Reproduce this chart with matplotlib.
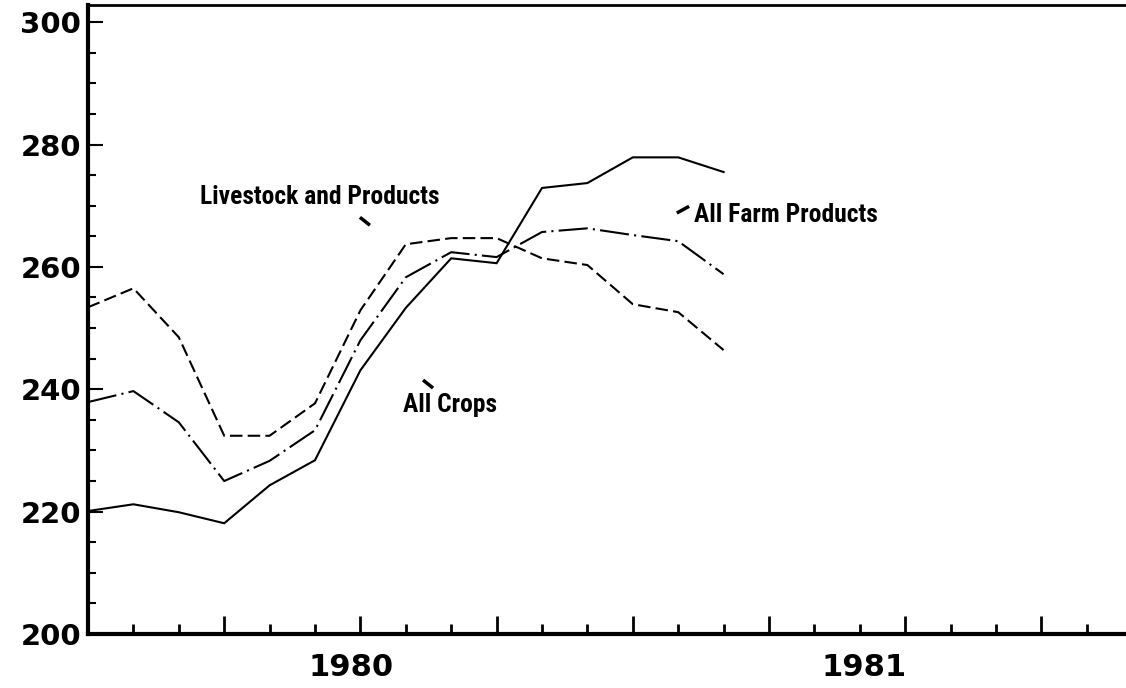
import numpy as np
import matplotlib
matplotlib.use("Agg")
import matplotlib.pyplot as plt
from matplotlib.ticker import MultipleLocator
from matplotlib import font_manager

# ---- data (index numbers, monthly) ----
all_crops = [220.1, 221.2, 219.9, 218.1, 224.3, 228.4, 243.1, 253.3, 261.4, 260.6,
             272.9, 273.7, 277.9, 277.9, 275.5]
all_farm = [237.9, 239.7, 234.6, 225.0, 228.3, 233.3, 248.0, 258.3, 262.4, 261.6,
            265.7, 266.3, 265.2, 264.2, 258.8]
livestock = [253.4, 256.5, 248.5, 232.4, 232.4, 237.7, 252.9, 263.7, 264.7, 264.7,
             261.4, 260.3, 253.9, 252.6, 246.4]
year_labels = ["1980", "1981"]
y_tick_values = [200, 220, 240, 260, 280, 300]
series_names = ["Livestock and Products", "All Crops", "All Farm Products"]

months = np.arange(len(all_crops))

installed = {f.name for f in font_manager.fontManager.ttflist}
narrow = None
for cand in ["Liberation Sans Narrow", "Roboto Condensed", "Open Sans Condensed",
             "DejaVu Sans Condensed", "Lato", "Roboto"]:
    if cand in installed:
        narrow = cand
        break
if narrow is None:
    narrow = "DejaVu Sans"
narrow_size = {"Liberation Sans Narrow": 18, "Roboto Condensed": 17,
               "Open Sans Condensed": 17, "DejaVu Sans Condensed": 15,
               "Lato": 16.5, "Roboto": 15.5}.get(narrow, 14) * 1.08

fig = plt.figure(figsize=(11.26, 6.88), dpi=100)
ax = fig.add_axes([88 / 1126, 54 / 688, 23 * 45.4 / 1126, 629 / 688])

lw = 1.5
ax.plot(months, all_crops, color="black", lw=lw, solid_joinstyle="miter")
ax.plot(months, all_farm, color="black", lw=lw, linestyle=(0, (14, 2.5, 1, 2.5)))
ax.plot(months, livestock, color="black", lw=lw, linestyle=(0, (6, 2.5)))

ax.set_xlim(0, 23)
ax.set_ylim(200, 302.8)

# spines
ax.spines["right"].set_visible(False)
ax.spines["left"].set_linewidth(3)
ax.spines["bottom"].set_linewidth(3)
ax.spines["top"].set_linewidth(2)

# y ticks
ax.yaxis.set_minor_locator(MultipleLocator(5))
ax.set_yticks(y_tick_values)
ax.set_yticklabels([str(v) for v in y_tick_values], fontsize=21,
                   fontweight="heavy", family="DejaVu Sans")
ax.tick_params(axis="y", which="major", direction="in", length=11, width=1.5, pad=5)
ax.tick_params(axis="y", which="minor", direction="in", length=6, width=1.5)

# x ticks: monthly, long ones quarterly
ax.xaxis.set_major_locator(MultipleLocator(3))
ax.xaxis.set_minor_locator(MultipleLocator(1))
ax.tick_params(axis="x", which="major", direction="in", length=13, width=2,
               labelbottom=False)
ax.tick_params(axis="x", which="minor", direction="in", length=7, width=2)
ax.tick_params(top=False, right=False, which="both")

# year labels
trans = ax.get_xaxis_transform()
for lab, xpos in zip(year_labels, [5.8, 17.1]):
    ax.text(xpos, -0.054, lab, transform=trans, ha="center", va="center",
            fontsize=22, fontweight="heavy", family="DejaVu Sans", clip_on=False)

# series annotations
label_font = dict(family=[narrow, "DejaVu Sans"], fontweight="bold",
                  fontsize=narrow_size, color="black")
ax.text(5.11, 271.4, series_names[0], ha="center", va="center", **label_font)
ax.text(7.97, 237.4, series_names[1], ha="center", va="center", **label_font)
ax.text(15.37, 268.5, series_names[2], ha="center", va="center", **label_font)

# small pointer marks
ax.plot([5.99, 6.21], [268.1, 266.8], color="black", lw=2.5, solid_capstyle="butt")
ax.plot([7.38, 7.60], [241.5, 240.2], color="black", lw=2.5, solid_capstyle="butt")
ax.plot([12.97, 13.24], [268.8, 269.9], color="black", lw=2.5, solid_capstyle="butt")

fig.savefig("out.png", dpi=100)
